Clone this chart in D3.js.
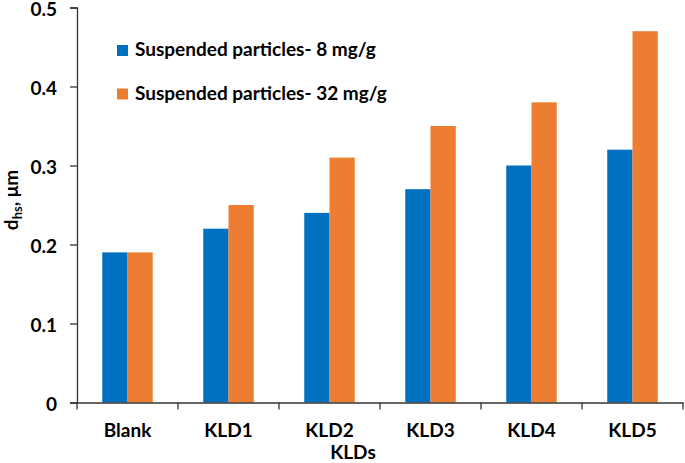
<!DOCTYPE html>
<html><head><meta charset="utf-8">
<script src="https://cdn.jsdelivr.net/npm/d3@7"></script>
<style>body{margin:0;background:#fff}svg{display:block}text{font-family:Lato,"Open Sans",sans-serif;font-weight:bold;fill:#000}</style>
</head><body><svg id="c" width="685" height="463"></svg>
<script>
const categories = ["Blank","KLD1","KLD2","KLD3","KLD4","KLD5"];
const seriesNames = ["Suspended particles- 8 mg/g","Suspended particles- 32 mg/g"];
const series8 = [0.19,0.22,0.24,0.27,0.30,0.32];
const series32 = [0.19,0.25,0.31,0.35,0.38,0.47];
const yTicks = [0,0.1,0.2,0.3,0.4,0.5];
const colors = ["#0070C0","#ED7D31"];

(function(){
const svg = d3.select("#c");
const mLeft = 77, mRight = 683, mTop = 7.5, mBottom = 402.5;
const fs = "19px";
const x = d3.scaleBand().domain(categories).range([mLeft, mRight]).padding(0);
const x1 = d3.scaleBand().domain([0,1]).range([x.bandwidth()*0.25, x.bandwidth()*0.75]).padding(0);
const y = d3.scaleLinear().domain([0,0.5]).range([mBottom, mTop]);

const data = categories.map((c,i)=>({c, v:[series8[i], series32[i]]}));
const g = svg.append("g");
g.selectAll("g.grp").data(data).join("g").attr("class","grp")
 .attr("transform", d=>`translate(${x(d.c)},0)`)
 .selectAll("rect").data(d=>d.v.map((v,k)=>({v,k}))).join("rect")
 .attr("x", d=>x1(d.k)).attr("width", x1.bandwidth())
 .attr("y", d=>y(d.v)).attr("height", d=>y(0)-y(d.v))
 .attr("fill", d=>colors[d.k]);

const ya = svg.append("g").attr("transform",`translate(${mLeft},0)`)
 .call(d3.axisLeft(y).tickValues(yTicks).tickFormat(d=>d===0?"0":d3.format(".1f")(d)).tickSizeOuter(0).tickSize(7).tickPadding(13));
ya.selectAll("text").style("font-size",fs).attr("fill","#000").attr("dy","0.4em");
ya.selectAll("line,path").attr("stroke","#333").attr("stroke-width",1.3);

const xa = svg.append("g").attr("transform",`translate(0,${mBottom})`)
 .call(d3.axisBottom(x).tickSize(0).tickPadding(21));
xa.selectAll("text").style("font-size",fs).attr("fill","#000");
xa.select("path").attr("stroke","#333").attr("stroke-width",1.3);
const bounds = categories.map(c=>x(c)).concat([mRight]);
xa.selectAll("line.bt").data(bounds).join("line").attr("class","bt")
 .attr("x1",d=>d).attr("x2",d=>d).attr("y1",0).attr("y2",7)
 .attr("stroke","#333").attr("stroke-width",1.3);

svg.append("text").attr("x",353).attr("y",459).attr("text-anchor","middle").style("font-size",fs).text("KLDs");

const yl = svg.append("text").attr("transform","translate(18,200) rotate(-90)").attr("text-anchor","middle").style("font-size",fs);
yl.append("tspan").text("d");
yl.append("tspan").attr("dy",4).style("font-size","13px").text("hs");
yl.append("tspan").attr("dy",-4).text(", μm");

const leg = svg.append("g");
seriesNames.forEach((n,i)=>{
  const yy = 45 + i*43.5;
  leg.append("rect").attr("x",117).attr("y",yy).attr("width",11).attr("height",11).attr("fill",colors[i]);
  leg.append("text").attr("x",135).attr("y",yy+11).style("font-size",fs).text(n);
});
})();
</script></body></html>
